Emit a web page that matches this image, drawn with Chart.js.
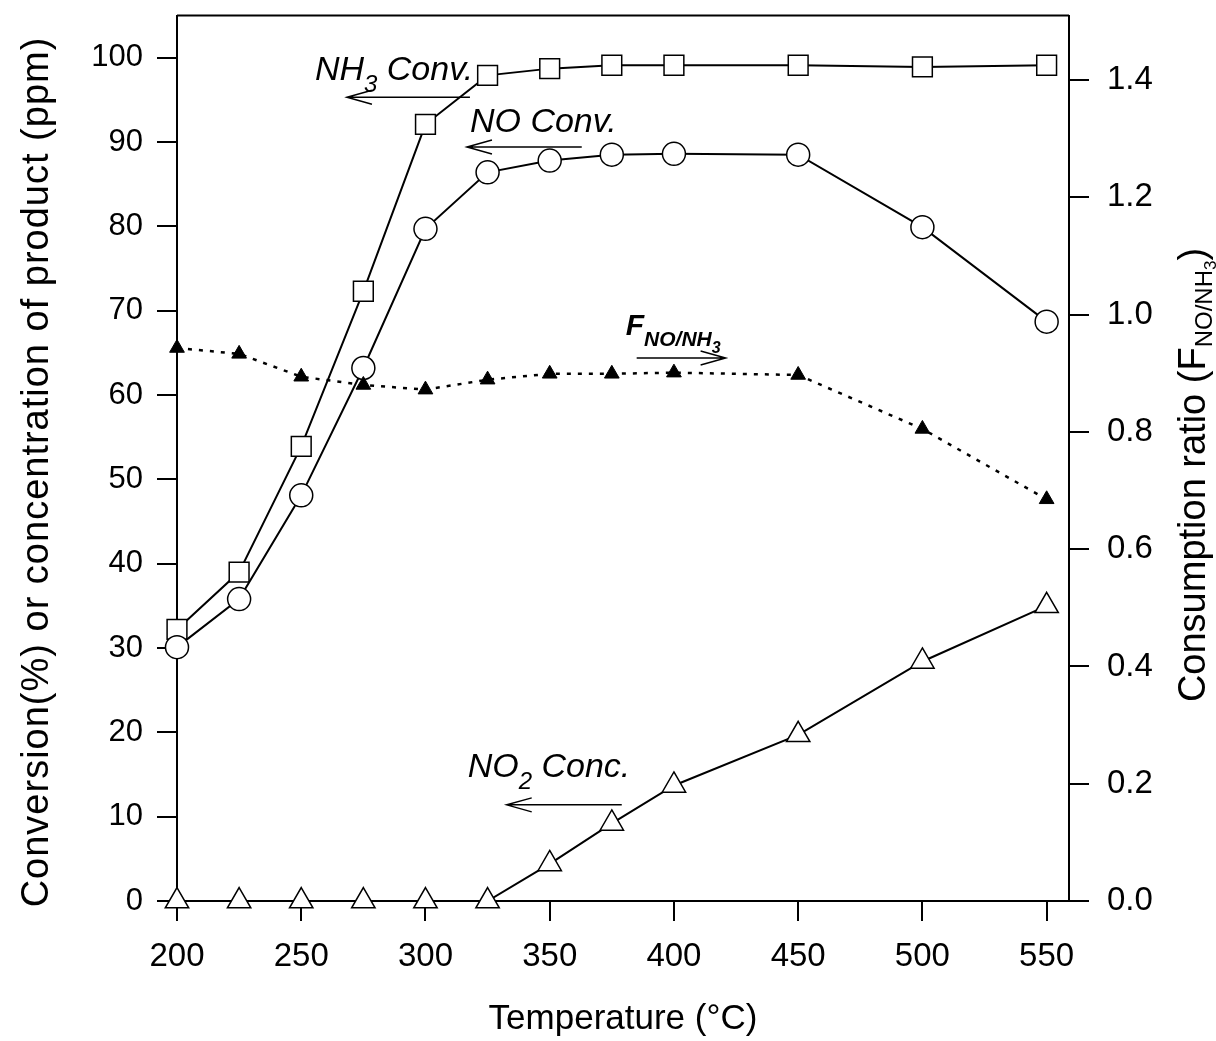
<!DOCTYPE html>
<html>
<head>
<meta charset="utf-8">
<script src="https://cdn.jsdelivr.net/npm/chart.js@4.4.1/dist/chart.umd.min.js"></script>
<style>
  body { margin: 0; background: #fff; }
  canvas { display: block; }
</style>
</head>
<body>
<canvas id="chart" width="1216" height="1041"></canvas>
<script>
// temperatures (C)
const temps = [200, 225, 250, 275, 300, 325, 350, 375, 400, 450, 500, 550];
// left axis, % or ppm
const nh3Conv = [32.2, 39.0, 53.9, 72.3, 92.1, 97.9, 98.7, 99.1, 99.1, 99.1, 98.9, 99.1];
const noConv = [30.1, 35.8, 48.1, 63.2, 79.7, 86.4, 87.8, 88.5, 88.6, 88.5, 79.9, 68.7];
const no2Conc = [0, 0, 0, 0, 0, 0, 4.4, 9.2, 13.7, 19.7, 28.4, 35.0];
// right axis, F NO/NH3
const ratio = [0.943, 0.933, 0.894, 0.880, 0.872, 0.889, 0.899, 0.899, 0.901, 0.897, 0.805, 0.685];

const xTicks = [200, 250, 300, 350, 400, 450, 500, 550];
const leftTicks = [0, 10, 20, 30, 40, 50, 60, 70, 80, 90, 100];
const rightTicks = [0, 0.2, 0.4, 0.6, 0.8, 1.0, 1.2, 1.4];

const FONT = '"Liberation Sans", Arial, sans-serif';

// text labels in the plot, placed in data units
const notes = [
  { axis: 'y', x: 255.5, y: 97.4, parts: [['NH', 34, 0], ['3', 24, 12], [' Conv.', 34, 0]], style: 'italic' },
  { axis: 'y', x: 317.9, y: 91.2, parts: [['NO Conv.', 34, 0]], style: 'italic' },
  { axis: 'y', x: 317.0, y: 14.7, parts: [['NO', 34, 0], ['2', 24, 12], [' Conc.', 34, 0]], style: 'italic' },
  { axis: 'y1', x: 380.6, y: 0.965, parts: [['F', 30, 0], ['NO/NH', 21, 11], ['3', 16, 18]], style: 'italic bold' }
];
// arrows: tail -> tip
const arrows = [
  { axis: 'y', from: 317.9, to: 268.4, y: 95.3 },
  { axis: 'y', from: 362.9, to: 316.7, y: 89.4 },
  { axis: 'y', from: 379.0, to: 332.7, y: 11.4 },
  { axis: 'y1', from: 385.0, to: 420.8, y: 0.926 }
];

function pts(ys) {
  return temps.map((t, i) => ({ x: t, y: ys[i] }));
}

function drawParts(ctx, x, y, parts, style) {
  let cx = x;
  parts.forEach(([txt, size, dy]) => {
    ctx.font = style + ' ' + size + 'px ' + FONT;
    ctx.fillText(txt, cx, y + dy);
    cx += ctx.measureText(txt).width;
  });
}

const extras = {
  id: 'extras',
  afterDatasetsDraw(chart) {
    const ctx = chart.ctx;
    const a = chart.chartArea;
    const xs = chart.scales.x;
    ctx.save();
    ctx.fillStyle = '#000';
    ctx.strokeStyle = '#000';
    // top frame line
    ctx.lineWidth = 2;
    ctx.beginPath();
    ctx.moveTo(a.left, a.top);
    ctx.lineTo(a.right, a.top);
    ctx.stroke();

    ctx.textBaseline = 'alphabetic';
    ctx.textAlign = 'left';
    notes.forEach(n => {
      const ys = chart.scales[n.axis];
      drawParts(ctx, xs.getPixelForValue(n.x), ys.getPixelForValue(n.y), n.parts, n.style);
    });

    ctx.lineWidth = 1.5;
    arrows.forEach(r => {
      const ys = chart.scales[r.axis];
      const x1 = xs.getPixelForValue(r.from);
      const x2 = xs.getPixelForValue(r.to);
      const y = ys.getPixelForValue(r.y);
      const d = x2 < x1 ? 1 : -1;
      ctx.beginPath();
      ctx.moveTo(x1, y);
      ctx.lineTo(x2, y);
      ctx.moveTo(x2 + d * 25, y - 7);
      ctx.lineTo(x2, y);
      ctx.lineTo(x2 + d * 25, y + 7);
      ctx.stroke();
    });

    // axis titles
    ctx.textAlign = 'center';
    ctx.font = '35px ' + FONT;
    ctx.fillText('Temperature (\u00B0C)', (a.left + a.right) / 2, 1029);

    ctx.save();
    ctx.translate(48, 472);
    ctx.rotate(-Math.PI / 2);
    ctx.font = '38px ' + FONT;
    ctx.letterSpacing = '1px';
    ctx.fillText('Conversion(%) or concentration of product (ppm)', 0, 0);
    ctx.restore();

    ctx.save();
    ctx.translate(1205, 475);
    ctx.rotate(-Math.PI / 2);
    const rparts = [['Consumption ratio (F', 38, 0], ['NO/NH', 24, 7], ['3', 17, 11], [')', 38, 0]];
    let w = 0;
    rparts.forEach(([t, s]) => { ctx.font = s + 'px ' + FONT; w += ctx.measureText(t).width; });
    ctx.textAlign = 'left';
    drawParts(ctx, -w / 2, 0, rparts, '');
    ctx.restore();

    ctx.restore();
  }
};

const axisGrid = { drawOnChartArea: false, drawTicks: true, tickLength: 20, color: '#000', lineWidth: 2 };

function noPad(s) {
  s.paddingTop = 0; s.paddingBottom = 0; s.paddingLeft = 0; s.paddingRight = 0;
}

new Chart(document.getElementById('chart'), {
  type: 'line',
  data: {
    datasets: [
      {
        data: pts(ratio), yAxisID: 'y1',
        borderColor: '#000', borderWidth: 2.5, borderDash: [4, 7],
        pointStyle: 'triangle', pointRadius: 8.5,
        pointBackgroundColor: '#000', pointBorderColor: '#000', pointBorderWidth: 1,
        clip: false
      },
      {
        data: pts(noConv), yAxisID: 'y',
        borderColor: '#000', borderWidth: 2,
        pointStyle: 'circle', pointRadius: 11.5,
        pointBackgroundColor: '#fff', pointBorderColor: '#000', pointBorderWidth: 1.5,
        clip: false
      },
      {
        data: pts(nh3Conv), yAxisID: 'y',
        borderColor: '#000', borderWidth: 2,
        pointStyle: 'rect', pointRadius: 14,
        pointBackgroundColor: '#fff', pointBorderColor: '#000', pointBorderWidth: 1.5,
        clip: false
      },
      {
        data: pts(no2Conc), yAxisID: 'y',
        borderColor: '#000', borderWidth: 2,
        pointStyle: 'triangle', pointRadius: 13.5,
        pointBackgroundColor: '#fff', pointBorderColor: '#000', pointBorderWidth: 1.5,
        clip: false
      }
    ]
  },
  options: {
    responsive: false,
    devicePixelRatio: 1,
    animation: false,
    layout: { padding: { top: 13, left: 0, right: 0, bottom: 0 } },
    plugins: { legend: { display: false }, tooltip: { enabled: false } },
    elements: { line: { tension: 0 } },
    scales: {
      x: {
        type: 'linear', min: 200, max: 559,
        afterFit: s => { s.height = 140; noPad(s); },
        afterBuildTicks: s => { s.ticks = xTicks.map(v => ({ value: v })); },
        grid: axisGrid,
        border: { color: '#000', width: 2 },
        ticks: { color: '#000', font: { family: FONT, size: 33 }, padding: 16, maxRotation: 0, autoSkip: false }
      },
      y: {
        position: 'left', min: 0, max: 105,
        afterFit: s => { s.width = 177; noPad(s); },
        afterBuildTicks: s => { s.ticks = leftTicks.map(v => ({ value: v })); },
        grid: axisGrid,
        border: { color: '#000', width: 2 },
        ticks: { color: '#000', font: { family: FONT, size: 31 }, padding: 14, autoSkip: false }
      },
      y1: {
        position: 'right', min: 0, max: 1.51,
        afterFit: s => { s.width = 147; noPad(s); },
        afterBuildTicks: s => { s.ticks = rightTicks.map(v => ({ value: v })); },
        grid: axisGrid,
        border: { color: '#000', width: 2 },
        ticks: { color: '#000', font: { family: FONT, size: 33 }, padding: 18, autoSkip: false,
                 callback: v => v.toFixed(1) }
      }
    }
  },
  plugins: [extras]
});
</script>
</body>
</html>
